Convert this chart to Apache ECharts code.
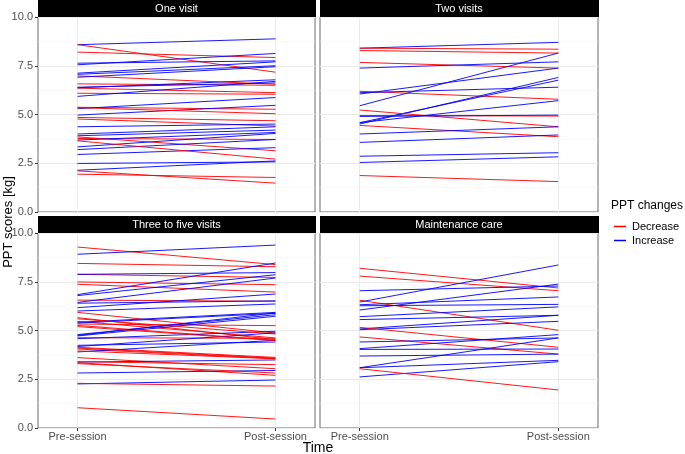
<!DOCTYPE html>
<html><head><meta charset="utf-8">
<script src="https://cdn.jsdelivr.net/npm/echarts@6/dist/echarts.min.js"></script>
<style>html,body{margin:0;padding:0;background:#fff}#c{width:685px;height:454px}</style></head>
<body><div id="c"></div><script>
// ---- data ----
const xSlots = ['', 'Pre-session', '', '', '', '', 'Post-session', ''];
const PRE_IDX = 1, POST_IDX = 6;
const panelTitles = ['One visit', 'Two visits', 'Three to five visits', 'Maintenance care'];
const yTickValues = [0, 2.5, 5, 7.5, 10];
const legendNames = ['Decrease', 'Increase'];

const pre1 = [8.58, 8.58, 8.20, 7.63, 7.55, 7.12, 7.06, 6.98, 6.91, 6.57, 6.40, 6.35, 6.37, 6.09, 5.93, 5.37, 5.30, 4.97, 4.85, 4.77, 5.35, 4.37, 4.00, 3.91, 3.77, 3.85, 3.69, 3.34, 3.20, 2.95, 3.65, 2.49, 2.14, 2.11, 1.94];
const post1 = [8.88, 7.17, 7.92, 7.75, 8.13, 7.70, 7.50, 6.55, 7.45, 6.50, 6.62, 6.12, 6.78, 6.04, 6.70, 5.27, 5.87, 5.47, 4.68, 4.41, 5.04, 4.51, 4.37, 4.20, 3.72, 3.14, 4.08, 4.03, 3.72, 3.30, 2.71, 2.57, 2.62, 1.48, 1.77];

const pre2 = [8.40, 8.40, 8.28, 7.67, 7.38, 6.05, 6.19, 5.45, 4.51, 4.58, 5.23, 4.95, 4.90, 6.12, 4.58, 4.44, 4.00, 3.57, 2.86, 2.54, 1.87];
const post2 = [8.70, 8.35, 8.15, 7.38, 7.70, 7.38, 5.78, 8.15, 6.90, 6.76, 4.37, 4.92, 4.97, 6.40, 5.71, 3.86, 4.37, 3.95, 3.04, 2.83, 1.56];

const pre3 = [9.28, 8.91, 8.44, 7.88, 7.88, 7.49, 7.37, 6.84, 6.79, 6.56, 6.44, 6.17, 6.00, 5.93, 5.66, 5.47, 5.42, 5.33, 5.26, 4.79, 4.72, 4.63, 4.58, 4.24, 4.14, 4.05, 3.90, 3.61, 3.38, 3.40, 3.35, 2.82, 3.30, 2.26, 2.29, 1.04, 6.40, 5.38, 5.60, 4.10, 4.18, 4.75, 5.20, 3.95];
const post3 = [8.38, 9.38, 8.27, 7.72, 7.97, 7.35, 6.97, 8.46, 7.86, 6.50, 7.69, 6.87, 6.36, 4.87, 4.53, 4.62, 5.93, 5.25, 4.50, 5.81, 5.73, 4.60, 4.96, 4.41, 3.62, 3.56, 4.50, 3.04, 3.49, 3.25, 2.70, 2.95, 2.82, 2.46, 2.15, 0.46, 6.52, 5.88, 4.82, 3.58, 4.88, 5.90, 4.48, 3.55];

const pre4 = [8.19, 7.79, 7.04, 6.55, 6.46, 6.32, 6.27, 5.71, 5.56, 5.08, 5.04, 5.16, 4.67, 4.41, 4.07, 4.03, 3.69, 3.09, 3.09, 2.62, 3.04, 6.05];
const post4 = [7.18, 7.04, 7.28, 5.01, 8.36, 6.72, 6.34, 6.21, 5.78, 5.78, 5.47, 4.14, 3.79, 4.62, 4.79, 4.05, 3.79, 4.62, 3.47, 3.40, 1.95, 7.38];

const panelsPre = [pre1, pre2, pre3, pre4];
const panelsPost = [post1, post2, post3, post4];

// ---- layout ----
const FONT = '"Liberation Sans", Arial, Helvetica, sans-serif';
const RED = '#FF0000', BLUE = '#0000FF';
const grids = [
  {left: 38, top: 17, width: 277, height: 195},
  {left: 320, top: 17, width: 278, height: 195},
  {left: 38, top: 233, width: 277, height: 195},
  {left: 320, top: 233, width: 278, height: 195}
];
const showSlot = (i) => i === PRE_IDX || i === POST_IDX;

const xAxes = grids.map((g, k) => ({
  type: 'category', gridIndex: k, data: xSlots, boundaryGap: false,
  axisLine: {show: false},
  axisTick: {show: k >= 2, interval: showSlot, length: 3, lineStyle: {color: '#333'}},
  axisLabel: {show: k >= 2, interval: showSlot, margin: 3, color: '#4d4d4d', fontSize: 11, fontFamily: FONT},
  splitLine: {show: true, interval: showSlot, lineStyle: {color: '#ebebeb', width: 1}}
}));
const yAxes = grids.map((g, k) => ({
  type: 'value', gridIndex: k, min: 0, max: 10, interval: 2.5,
  axisLine: {show: false},
  axisTick: {show: k % 2 === 0, length: 3, lineStyle: {color: '#333'}},
  axisLabel: {show: k % 2 === 0, margin: 5, color: '#4d4d4d', fontSize: 11, fontFamily: FONT,
    formatter: v => (yTickValues.indexOf(v) >= 0 ? v.toFixed(1) : '')},
  splitLine: {show: true, lineStyle: {color: '#ebebeb', width: 1}},
  minorTick: {show: false, splitNumber: 2},
  minorSplitLine: {show: true, lineStyle: {color: '#f5f5f5', width: 0.6}}
}));

const series = [];
panelsPre.forEach((pre, k) => {
  const post = panelsPost[k];
  pre.forEach((p, i) => {
    const inc = post[i] > p;
    series.push({
      type: 'line', name: inc ? legendNames[1] : legendNames[0],
      xAxisIndex: k, yAxisIndex: k, symbol: 'none', silent: true,
      data: [[PRE_IDX, p], [POST_IDX, post[i]]],
      lineStyle: {color: inc ? BLUE : RED, width: 1, opacity: 0.9},
      itemStyle: {color: inc ? BLUE : RED}
    });
  });
});

const graphic = [];
grids.forEach((g, k) => {
  const top = k < 2 ? 0 : 216;
  graphic.push({type: 'rect', left: g.left, top: top, shape: {width: g.width + 1, height: 17}, style: {fill: '#000'}, silent: true});
  graphic.push({type: 'text', x: g.left + g.width / 2, y: top + 8.5, style: {text: panelTitles[k], fill: '#fff', font: '11px ' + FONT, textAlign: 'center', textVerticalAlign: 'middle'}, silent: true});
});
graphic.push({type: 'text', x: 318, y: 448, style: {text: 'Time', fill: '#000', font: '14px ' + FONT, textAlign: 'center', textVerticalAlign: 'middle'}});
graphic.push({type: 'text', x: 8, y: 222, rotation: Math.PI / 2, style: {text: 'PPT scores [kg]', fill: '#000', font: '13px ' + FONT, textAlign: 'center', textVerticalAlign: 'middle'}});
graphic.push({type: 'text', x: 611, y: 206, style: {text: 'PPT changes', fill: '#000', font: '12px ' + FONT, textAlign: 'left', textVerticalAlign: 'middle'}});

const chart = echarts.init(document.getElementById('c'), null, {renderer: 'canvas'});
chart.setOption({
  animation: false,
  backgroundColor: '#fff',
  grid: grids.map(g => Object.assign({show: true, borderColor: '#6b6b6b', borderWidth: 1, backgroundColor: 'transparent', containLabel: false}, g)),
  xAxis: xAxes,
  yAxis: yAxes,
  legend: {
    data: legendNames, orient: 'vertical', left: 609, top: 216, itemGap: 3,
    itemWidth: 12, itemHeight: 1.5, icon: 'rect',
    selectedMode: false,
    textStyle: {fontSize: 11, fontFamily: FONT, color: '#000', padding: [0, 0, 0, 1]}
  },
  graphic: graphic,
  series: series
});
</script></body></html>
